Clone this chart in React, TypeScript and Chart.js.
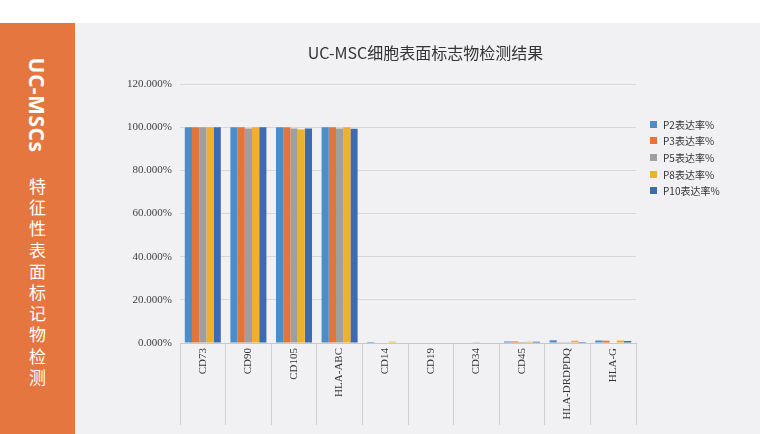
import React, { useEffect, useRef } from "react";
import { Chart, ChartConfiguration, registerables } from "chart.js";
Chart.register(...registerables);

const categories = [
  "CD73",
  "CD90",
  "CD105",
  "HLA-ABC",
  "CD14",
  "CD19",
  "CD34",
  "CD45",
  "HLA-DRDPDQ",
  "HLA-G",
];
const seriesNames = ["P2表达率%", "P3表达率%", "P5表达率%", "P8表达率%", "P10表达率%"];
const p2 = [100, 100, 100, 100, 0.5, 0, 0, 0.7, 1.3, 1.2];
const p3 = [100, 100, 100, 100, 0, 0, 0, 0.7, 0.3, 1.0];
const p5 = [100, 99.5, 99.5, 99.5, 0, 0, 0.4, 0.5, 0.4, 0.2];
const p8 = [100, 100, 99.0, 100, 0.6, 0, 0, 0.6, 1.0, 1.2];
const p10 = [100, 100, 99.5, 99.4, 0, 0, 0, 0.6, 0.5, 0.9];
const yTicks = [0, 20, 40, 60, 80, 100, 120];

const colors = ["#4c8dc8", "#e2743c", "#9f9f9f", "#efb02e", "#3d6ab3"];
const sideTitle = "UC-MSCs";
const sideChars = "特征性表面标记物检测";

const App = () => {
  const ref = useRef<HTMLCanvasElement>(null);

  useEffect(() => {
    const values = [p2, p3, p5, p8, p10];
    const config: ChartConfiguration = {
      type: "bar",
      data: {
        labels: categories,
        datasets: seriesNames.map((name, i) => ({
          label: name,
          data: values[i],
          backgroundColor: colors[i],
          borderWidth: 0,
          barPercentage: 1.0,
          categoryPercentage: 0.79,
        })),
      },
      options: {
        animation: false,
        responsive: false,
        maintainAspectRatio: false,
        layout: { padding: { left: 16, right: 0, top: 0, bottom: 9 } },
        plugins: {
          legend: { display: false },
          tooltip: { enabled: false },
          title: {
            display: true,
            text: "UC-MSC细胞表面标志物检测结果",
            color: "#333333",
            font: { family: "'Noto Sans CJK SC', 'Noto Sans'", size: 16, weight: "normal" },
            padding: { top: 20, bottom: 22 },
          },
        },
        scales: {
          x: {
            offset: true,
            grid: {
              display: true,
              offset: true,
              drawOnChartArea: false,
              drawTicks: true,
              tickLength: 82,
              color: "#d0d0d0",
            },
            border: { display: true, color: "#c8c8c8" },
            ticks: {
              minRotation: 90,
              maxRotation: 90,
              autoSkip: false,
              padding: -77,
              color: "#333333",
              font: { family: "'Liberation Serif', serif", size: 11 },
            },
            afterFit: (scale: any) => {
              scale.height = 82;
            },
          },
          y: {
            min: 0,
            max: 120,
            afterBuildTicks: (scale: any) => {
              scale.ticks = yTicks.map((v) => ({ value: v }));
            },
            grid: { color: "#d8d8d8", drawTicks: false },
            border: { display: false },
            ticks: {
              padding: 8,
              color: "#404040",
              font: { family: "'Liberation Serif', serif", size: 11 },
              callback: (v: any) => Number(v).toFixed(3) + "%",
            },
            afterFit: (scale: any) => {
              scale.width = 89;
            },
          },
          side: {
            type: "linear",
            position: "right",
            display: true,
            grid: { display: false },
            border: { display: false },
            ticks: { display: false },
            afterFit: (scale: any) => {
              scale.width = 124;
            },
          },
        },
      },
    };
    const chart = new Chart(ref.current!, config);
    return () => {
      chart.destroy();
    };
  }, []);

  return (
    <div
      style={{
        position: "absolute",
        left: 0,
        top: 0,
        width: 760,
        height: 434,
        background: "#ffffff",
        overflow: "hidden",
      }}
    >
      <div
        style={{
          position: "absolute",
          left: 0,
          top: 23,
          width: 75,
          height: 411,
          background: "#e5763f",
          color: "#ffffff",
        }}
      >
        <div
          style={{
            position: "absolute",
            left: 37,
            top: 82,
            transform: "translate(-50%, -50%) rotate(90deg)",
            fontFamily: "'Noto Sans', sans-serif",
            fontWeight: 700,
            fontSize: 21,
            whiteSpace: "nowrap",
            letterSpacing: 0.5,
          }}
        >
          {sideTitle}
        </div>
        <div
          style={{
            position: "absolute",
            left: 0,
            width: 75,
            top: 152,
            textAlign: "center",
            fontFamily: "'Noto Sans CJK SC', sans-serif",
            fontSize: 17,
            lineHeight: "21.2px",
          }}
        >
          {sideChars.split("").map((c, i) => (
            <div key={i}>{c}</div>
          ))}
        </div>
      </div>
      <div
        style={{
          position: "absolute",
          left: 75,
          top: 23,
          width: 685,
          height: 411,
          background: "#f1f1f3",
        }}
      >
        <canvas ref={ref} width={685} height={411} style={{ width: 685, height: 411 }}></canvas>
        <div
          style={{
            position: "absolute",
            left: 575,
            top: 93,
            fontFamily: "'Noto Sans CJK SC', sans-serif",
            fontSize: 10,
            color: "#333333",
          }}
        >
          {seriesNames.map((name, i) => (
            <div key={i} style={{ display: "flex", alignItems: "center", height: 16.6 }}>
              <span
                style={{
                  display: "inline-block",
                  width: 7,
                  height: 7,
                  background: colors[i],
                  marginRight: 6,
                }}
              ></span>
              {name}
            </div>
          ))}
        </div>
      </div>
    </div>
  );
};

export default App;
